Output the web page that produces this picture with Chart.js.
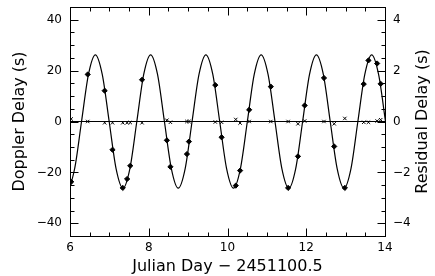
<!DOCTYPE html>
<html><head><meta charset="utf-8">
<script src="https://cdn.jsdelivr.net/npm/chart.js@4/dist/chart.umd.min.js"></script>
<style>html,body{margin:0;padding:0;background:#fff}#c{display:block}</style>
</head><body>
<canvas id="c" width="435" height="276"></canvas>
<script>
// Observed Doppler delays (s) vs Julian Day - 2451100.5
const obsDay = [6.03, 6.45, 6.88, 7.08, 7.34, 7.45, 7.53, 7.83, 8.46, 8.55, 8.97, 9.02, 9.69, 9.85,
  10.21, 10.32, 10.55, 11.10, 11.54, 11.79, 11.96, 12.45, 12.71, 12.98, 13.46, 13.58, 13.80, 13.89];
const obsDelay = [-23.7, 18.5, 12.1, -11.1, -26.1, -22.6, -17.4, 16.4, -7.4, -17.8, -12.8, -7.9, 14.3, -6.2,
  -25.2, -19.3, 4.6, 13.7, -26.1, -13.7, 6.3, 17.1, -9.8, -26.1, 14.7, 24.0, 22.8, 14.8];
// Residual delays (s), right axis
const residual = [0.10, 0.00, -0.05, -0.05, -0.05, -0.05, -0.04, -0.05, 0.05, -0.03, 0.00, 0.00, -0.02, -0.03,
  0.08, -0.06, 0.00, 0.00, 0.00, -0.09, 0.02, 0.00, -0.09, 0.12, -0.03, -0.03, 0.02, 0.07];
// Model curve (peaks, troughs, zero crossings and midpoints)
const modelDay = [5.767, 5.942, 6.118, 6.293, 6.469, 6.644, 6.819, 6.995, 7.170, 7.346, 7.521, 7.697, 7.872,
  8.048, 8.223, 8.398, 8.574, 8.749, 8.925, 9.100, 9.276, 9.451, 9.627, 9.802, 9.977, 10.153, 10.328,
  10.504, 10.679, 10.855, 11.030, 11.206, 11.381, 11.557, 11.732, 11.908, 12.083, 12.258, 12.434,
  12.609, 12.785, 12.960, 13.136, 13.311, 13.487, 13.662, 13.837, 14.013];
const modelDelay = [-18.5, -26.2, -18.5, 0, 18.5, 26.2, 18.5, 0, -18.5, -26.2, -18.5, 0, 18.5,
  26.2, 18.5, 0, -18.5, -26.2, -18.5, 0, 18.5, 26.2, 18.5, 0, -18.5, -26.2, -18.5,
  0, 18.5, 26.2, 18.5, 0, -18.5, -26.2, -18.5, 0, 18.5, 26.2, 18.5,
  0, -18.5, -26.2, -18.5, 0, 18.5, 26.2, 18.5, 0];
const zeroLineDay = [6, 14];
const zeroLineVal = [0, 0];
// Tick labels
const xTickValues = [6, 8, 10, 12, 14];
const yTickValues = [-40, -20, 0, 20, 40];
const y1TickValues = [-4, -2, 0, 2, 4];

const FONT = 'DejaVu Sans';
const isIn = (arr, v) => arr.some(t => Math.abs(t - v) < 1e-6);
const fmt = v => (v < 0 ? '\u2212' + Math.abs(v) : String(v));

const frameTicks = {
  id: 'frameTicks',
  afterDraw(chart) {
    const ctx = chart.ctx, a = chart.chartArea;
    const L = Math.round(a.left) + 0.5, R = Math.round(a.right) + 0.5;
    const T = Math.round(a.top) + 0.5, B = Math.round(a.bottom) + 0.5;
    ctx.save();
    ctx.strokeStyle = '#000';
    ctx.lineWidth = 1;
    ctx.strokeRect(L, T, R - L, B - T);
    ctx.beginPath();
    const xs = chart.scales.x;
    xs.ticks.forEach(t => {
      if (t.value <= xs.min + 1e-6 || t.value >= xs.max - 1e-6) return;
      const p = Math.round(xs.getPixelForValue(t.value)) + 0.5;
      const len = isIn(xTickValues, t.value) ? 8 : 4;
      ctx.moveTo(p, B); ctx.lineTo(p, B - len);
      ctx.moveTo(p, T); ctx.lineTo(p, T + len);
    });
    const ys = chart.scales.y;
    ys.ticks.forEach(t => {
      if (t.value <= ys.min + 1e-6 || t.value >= ys.max - 1e-6) return;
      const p = Math.round(ys.getPixelForValue(t.value)) + 0.5;
      const len = isIn(yTickValues, t.value) ? 8 : 4;
      ctx.moveTo(L, p); ctx.lineTo(L + len, p);
    });
    const y1 = chart.scales.y1;
    y1.ticks.forEach(t => {
      if (t.value <= y1.min + 1e-6 || t.value >= y1.max - 1e-6) return;
      const p = Math.round(y1.getPixelForValue(t.value)) + 0.5;
      const len = isIn(y1TickValues, t.value) ? 8 : 4;
      ctx.moveTo(R, p); ctx.lineTo(R - len, p);
    });
    ctx.stroke();
    // right axis title, reading bottom to top
    ctx.fillStyle = '#000';
    ctx.font = '16px "' + FONT + '"';
    ctx.textAlign = 'center';
    ctx.textBaseline = 'middle';
    ctx.translate(423, (a.top + a.bottom) / 2);
    ctx.rotate(-Math.PI / 2);
    ctx.fillText('Residual Delay (s)', 0, 0);
    ctx.restore();
  }
};

new Chart(document.getElementById('c'), {
  type: 'line',
  data: {
    datasets: [
      {
        data: modelDay.map((d, i) => ({x: d, y: modelDelay[i]})),
        borderColor: '#000', borderWidth: 1.2, pointRadius: 0,
        cubicInterpolationMode: 'monotone', yAxisID: 'y'
      },
      {
        data: zeroLineDay.map((d, i) => ({x: d, y: zeroLineVal[i]})),
        borderColor: '#000', borderWidth: 1, pointRadius: 0, yAxisID: 'y1'
      },
      {
        data: obsDay.map((d, i) => ({x: d, y: obsDelay[i]})),
        showLine: false, pointStyle: 'rectRot', pointRadius: 2.6,
        backgroundColor: '#000', borderColor: '#000', borderWidth: 1, yAxisID: 'y'
      },
      {
        data: obsDay.map((d, i) => ({x: d, y: residual[i]})),
        showLine: false, pointStyle: 'crossRot', pointRadius: 2.4,
        borderColor: '#000', borderWidth: 1, yAxisID: 'y1'
      }
    ]
  },
  options: {
    responsive: false, animation: false, devicePixelRatio: 1,
    layout: {padding: {top: 7, left: 0, right: 0, bottom: 0}},
    plugins: {legend: {display: false}, tooltip: {enabled: false}},
    scales: {
      x: {
        type: 'linear', min: 6, max: 14,
        grid: {display: false, drawTicks: false}, border: {display: false},
        ticks: {stepSize: 0.5, autoSkip: false, maxRotation: 0, padding: 5, color: '#000',
          font: {family: FONT, size: 12},
          callback: v => isIn(xTickValues, v) ? fmt(v) : ''},
        title: {display: true, text: 'Julian Day \u2212 2451100.5', color: '#000',
          font: {family: FONT, size: 16}, padding: {top: 0, bottom: 0}},
        afterFit: s => { s.height = 40; s.paddingLeft = 0; s.paddingRight = 0; }
      },
      y: {
        type: 'linear', position: 'left', min: -45, max: 45,
        grid: {display: false, drawTicks: false}, border: {display: false},
        ticks: {stepSize: 5, autoSkip: false, padding: 8, color: '#000',
          font: {family: FONT, size: 12},
          callback: v => isIn(yTickValues, v) ? fmt(v) : ''},
        title: {display: true, text: 'Doppler Delay (s)', color: '#000',
          font: {family: FONT, size: 16}, padding: {top: 10, bottom: 0}},
        afterFit: s => { s.width = 70; s.paddingTop = 0; s.paddingBottom = 0; }
      },
      y1: {
        type: 'linear', position: 'right', min: -4.5, max: 4.5,
        grid: {display: false, drawTicks: false}, border: {display: false},
        ticks: {stepSize: 0.5, autoSkip: false, padding: 8, color: '#000',
          font: {family: FONT, size: 12},
          callback: v => isIn(y1TickValues, v) ? fmt(v) : ''},
        title: {display: false},
        afterFit: s => { s.width = 50; s.paddingTop = 0; s.paddingBottom = 0; }
      }
    }
  },
  plugins: [frameTicks]
});
</script>
</body></html>
